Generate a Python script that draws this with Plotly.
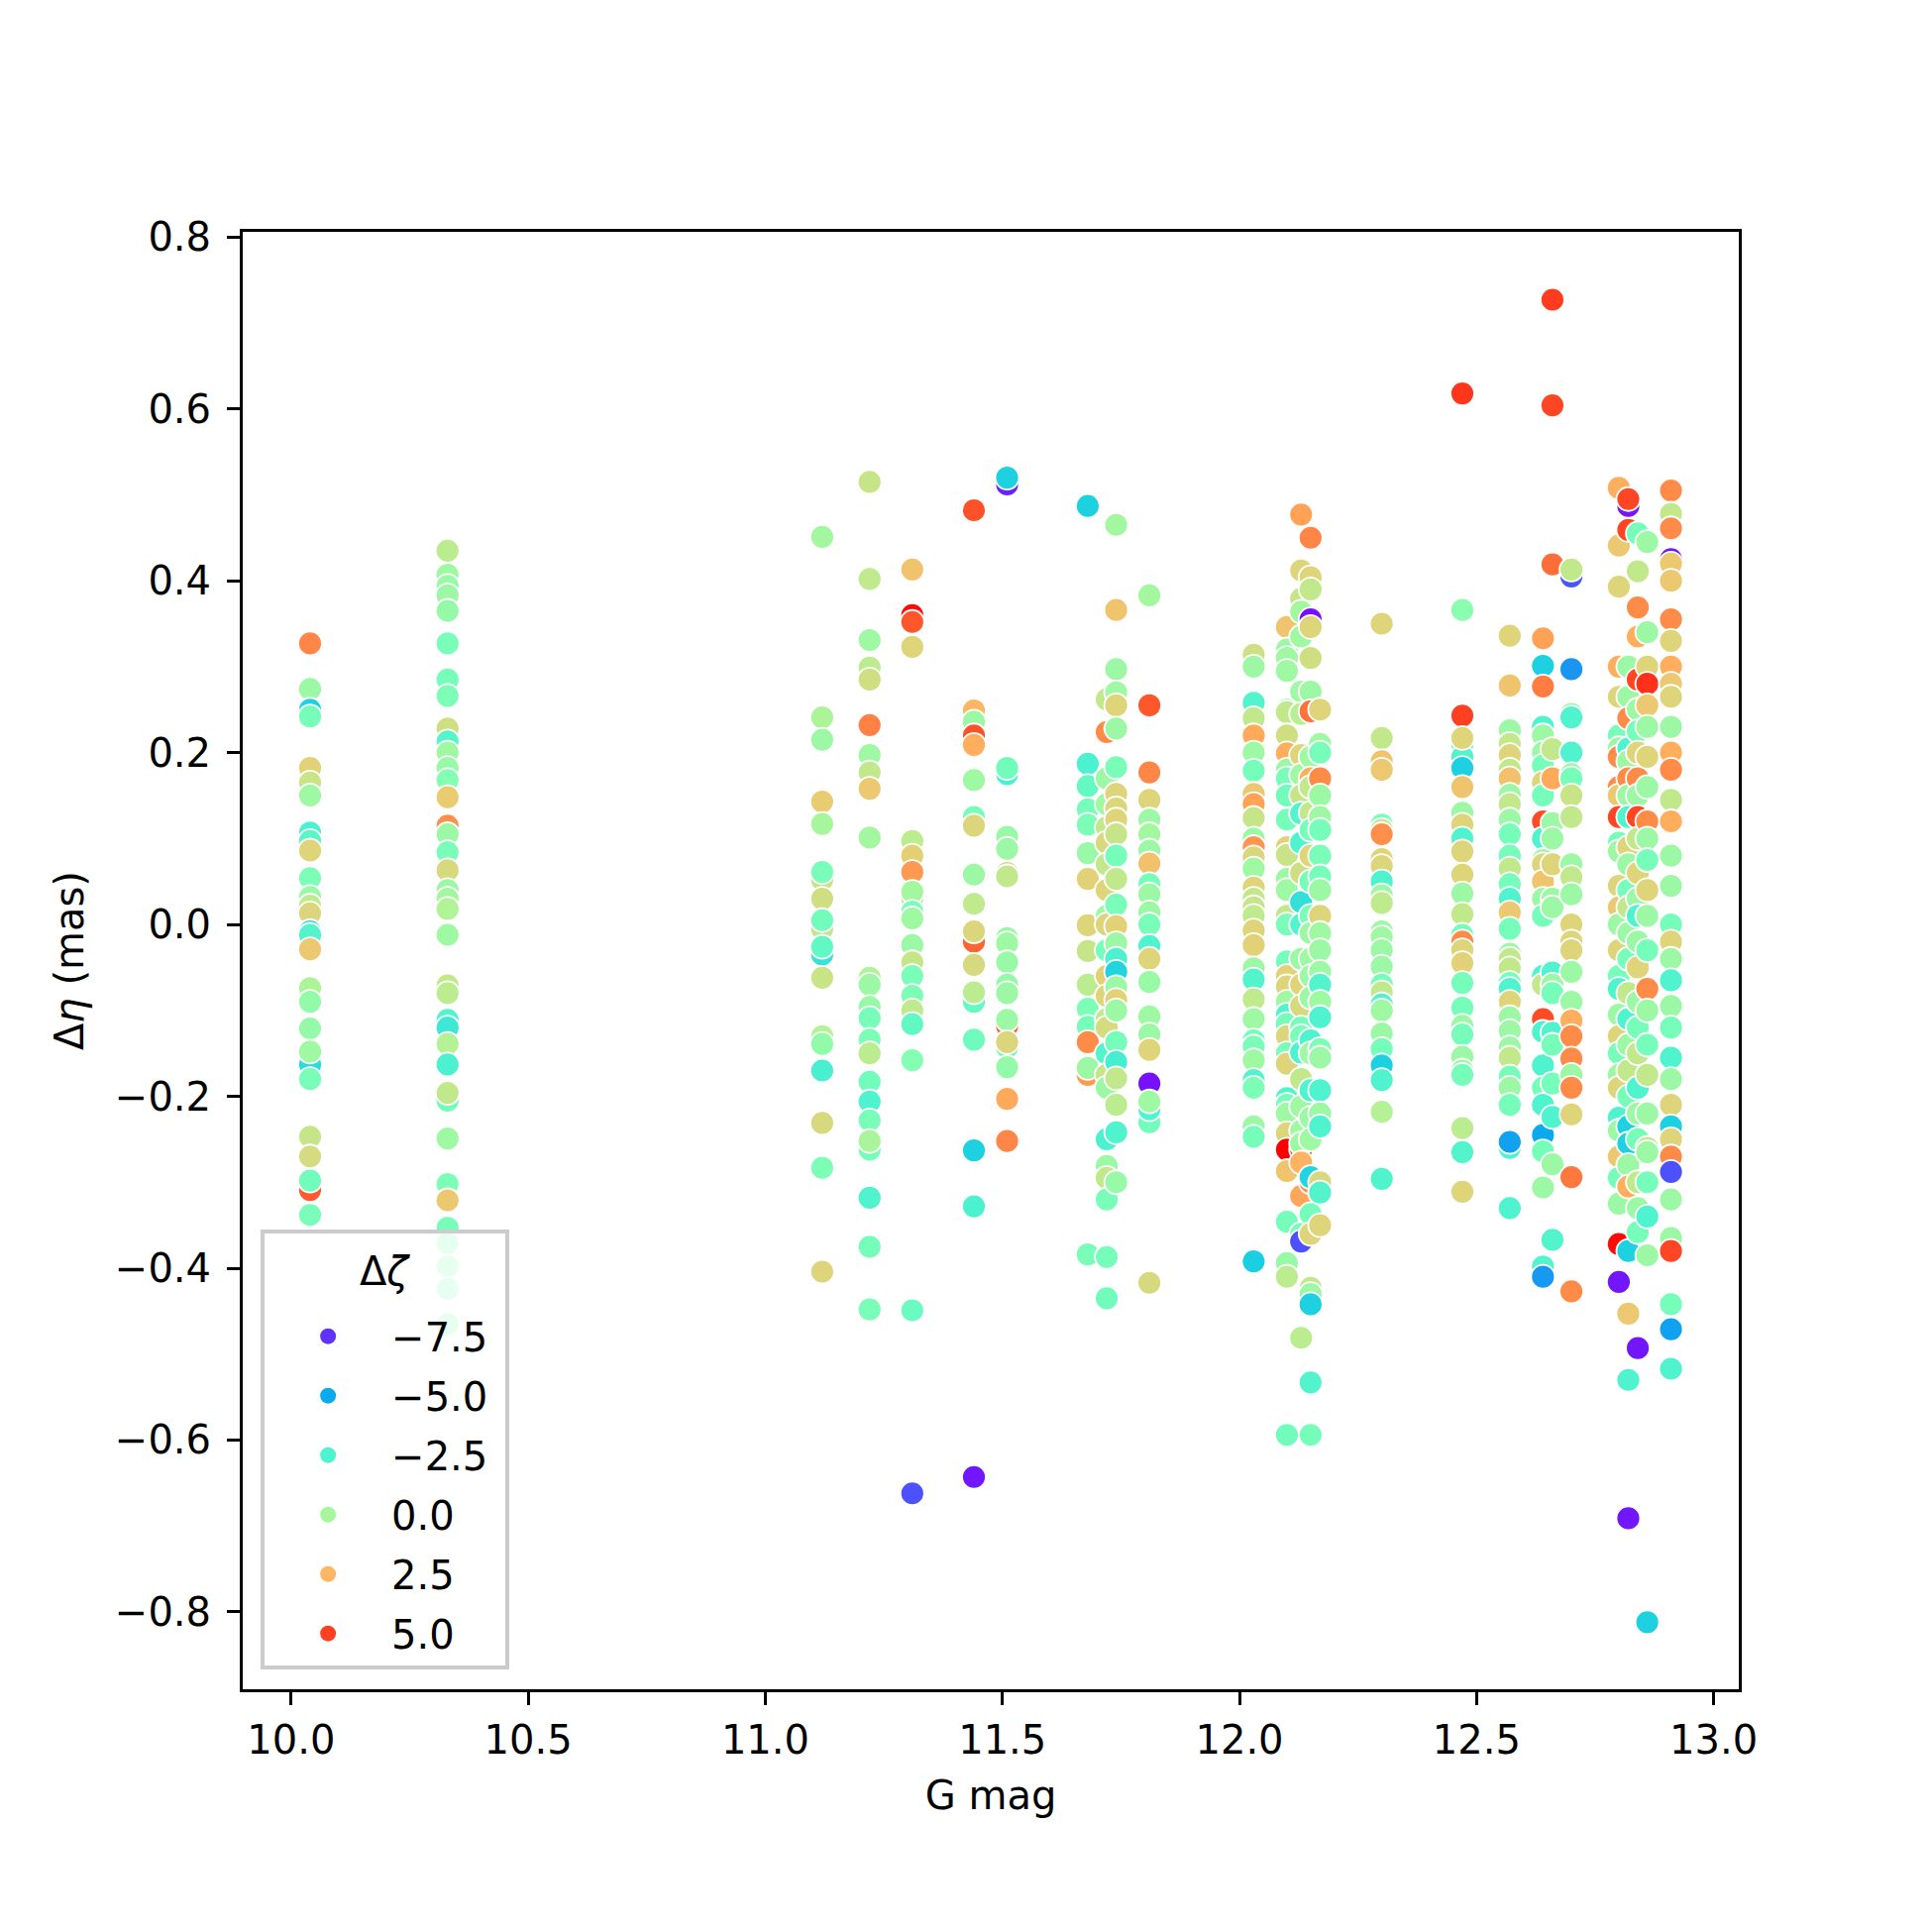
import plotly.graph_objects as go
import plotly.colors as pc

# G magnitude of each column of stars
g_mag_cols = [10.04, 10.33, 11.12, 11.22, 11.31, 11.44, 11.51, 11.68, 11.72, 11.74,
              11.81, 12.03, 12.10, 12.13, 12.15, 12.17, 12.30, 12.47, 12.57, 12.64,
              12.66, 12.70, 12.80, 12.82, 12.84, 12.86, 12.91]

# delta eta (mas) and delta zeta per column
eta_1004 = [0.327, 0.274, 0.250, 0.242, 0.182, 0.165, 0.150, 0.107, 0.097, 0.086, 0.054, 0.032, 0.022, 0.013,
            -0.008, -0.012, -0.029, -0.074, -0.090, -0.121, -0.163, -0.148, -0.180, -0.247, -0.270, -0.309,
            -0.298, -0.338]
zeta_1004 = [3.6, -0.3, -3.9, -1.4, 1.7, 1.0, -0.2, -2.6, -2.2, 1.6, -1.2, -0.4, 0.7, 1.5,
             -3.8, -2.4, 2.0, 0.2, -0.6, -0.5, -3.5, -0.2, -1.3, 0.9, 1.3, 4.5, -1.5, -1.3]

eta_1033 = [0.435, 0.407, 0.394, 0.383, 0.365, 0.327, 0.285, 0.266, 0.228, 0.213, 0.200, 0.182, 0.168, 0.148,
            0.115, 0.105, 0.084, 0.063, 0.040, 0.030, 0.018, -0.012, -0.071, -0.080, -0.111, -0.120, -0.139,
            -0.163, -0.205, -0.196, -0.249, -0.302, -0.321, -0.353, -0.371, -0.398, -0.424, -0.465]
zeta_1033 = [0.6, -0.2, -0.4, -0.3, -0.5, -1.3, -1.4, -1.2, 1.2, -2.3, -0.2, -0.4, -1.0, 1.9,
             3.4, -0.3, -1.3, 1.4, -0.3, -0.1, 0.3, -0.2, 0.8, 0.6, -2.4, -3.0, 0.4,
             -2.6, -1.5, 0.8, -0.2, -1.2, 2.0, -1.4, -1.1, -0.9, -1.0, -0.8]

eta_1112 = [0.451, 0.241, 0.215, 0.143, 0.117, 0.052, 0.061, 0.030, -0.005, 0.005, -0.035, -0.026, -0.062,
            -0.130, -0.139, -0.170, -0.231, -0.283, -0.404]
zeta_1112 = [-0.1, 0.2, -0.3, 1.9, 0.0, 1.0, -1.3, 1.2, 0.9, -1.5, -3.2, -2.0, 1.0,
             0.4, -0.6, -2.7, 1.4, -1.2, 1.6]

eta_1122 = [0.515, 0.402, 0.331, 0.299, 0.285, 0.232, 0.197, 0.177, 0.158, 0.101, -0.062, -0.070, -0.096,
            -0.109, -0.134, -0.150, -0.183, -0.206, -0.228, -0.262, -0.252, -0.318, -0.375, -0.448]
zeta_1122 = [0.9, 0.7, -0.2, 0.6, 1.2, 3.7, -0.2, 0.8, 2.0, -0.1, 0.3, -0.3, -0.4,
             -1.4, -1.2, 0.6, -1.5, -2.5, -1.3, -1.4, 0.1, -2.5, -1.4, -1.3]

eta_1131 = [0.413, 0.360, 0.352, 0.323, 0.087, 0.097, 0.080, 0.061, 0.030, 0.038, 0.015, 0.007, -0.024,
            -0.044, -0.060, -0.083, -0.100, -0.116, -0.158, -0.449, -0.662]
zeta_1131 = [2.1, 6.0, 4.6, 1.6, 1.0, 0.6, 1.8, 3.2, 0.8, -0.1, -1.3, -0.2, -0.3,
             0.9, -1.3, -1.2, 0.7, -2.0, -1.0, -1.7, -6.9]

eta_1144 = [0.482, 0.249, 0.236, 0.220, 0.209, 0.168, 0.125, 0.115, 0.058, 0.024, -0.020, -0.008, -0.090,
            -0.047, -0.079, -0.134, -0.263, -0.328, -0.643]
zeta_1144 = [4.7, 2.5, -0.3, 4.7, 2.7, -0.2, -1.4, 1.5, -0.3, 0.7, 4.3, 1.5, -1.9,
             1.4, 0.6, -1.6, -3.9, -2.6, -8.0]

eta_1151 = [0.512, 0.520, 0.175, 0.182, 0.102, 0.088, 0.060, 0.056, -0.016, -0.022, -0.044, -0.070, -0.080,
            -0.118, -0.111, -0.143, -0.137, -0.166, -0.203, -0.252]
zeta_1151 = [-7.8, -3.9, -2.6, -1.5, -0.4, -0.3, 1.5, 0.8, -0.5, -0.2, -0.4, -0.5, -0.3,
             4.5, -0.3, -1.6, 1.5, -0.5, 2.8, 3.6]

eta_1168 = [0.487, 0.187, 0.161, 0.134, 0.116, 0.083, 0.053, -0.001, -0.031, -0.070, -0.098, -0.119, -0.137,
            -0.175, -0.167, -0.384]
zeta_1168 = [-3.9, -2.6, -1.9, -1.4, -1.2, -0.4, 1.7, 1.6, 0.9, 0.6, -1.2, -1.4, 3.5,
             3.2, -0.3, -1.3]

eta_1172 = [0.262, 0.224, 0.170, 0.140, 0.113, 0.095, 0.070, 0.040, 0.010, 0.000, -0.030, -0.060, -0.083,
            -0.110, -0.120, -0.150, -0.175, -0.190, -0.250, -0.281, -0.295, -0.320, -0.387, -0.435]
zeta_1172 = [0.8, 3.5, -0.3, -0.2, 0.8, 1.4, 0.8, 1.6, -0.3, 1.5, -1.4, 1.8, 1.6,
             0.8, 1.3, -2.4, 0.9, -0.3, -2.6, -0.3, 0.8, -1.3, -1.4, -1.5]

eta_1174 = [0.465, 0.366, 0.297, 0.270, 0.255, 0.228, 0.183, 0.152, 0.135, 0.122, 0.105, 0.080, 0.053,
            0.023, -0.002, -0.022, -0.040, -0.055, -0.073, -0.088, -0.100, -0.137, -0.160, -0.179, -0.210,
            -0.242, -0.300]
zeta_1174 = [-0.1, 2.1, -0.3, -0.2, 1.6, -0.3, -1.3, 1.6, 1.5, 1.6, 0.9, -1.4, 0.8,
             -1.3, 1.7, -0.3, -2.6, -3.8, -0.3, 1.7, -0.3, -1.4, -2.8, 0.8, 0.6,
             -2.5, -0.4]

eta_1181 = [0.383, 0.255, 0.177, 0.145, 0.122, 0.105, 0.086, 0.071, 0.047, 0.035, 0.014, 0.000, -0.025,
            -0.040, -0.067, -0.107, -0.128, -0.146, -0.185, -0.230, -0.215, -0.206, -0.417]
zeta_1181 = [-0.1, 4.6, 3.6, 1.6, -0.3, -0.1, -0.3, 2.2, -1.4, -0.3, -0.3, -1.3, -2.5,
             1.6, -0.4, -0.2, -0.3, 1.6, -8.1, -1.5, -2.5, -0.2, 1.4]

eta_1203 = [0.314, 0.300, 0.258, 0.240, 0.220, 0.200, 0.179, 0.152, 0.140, 0.124, 0.100, 0.090, 0.078,
            0.065, 0.043, 0.030, 0.020, 0.010, -0.007, -0.024, -0.051, -0.064, -0.087, -0.110, -0.135,
            -0.142, -0.158, -0.181, -0.190, -0.235, -0.247, -0.392]
zeta_1203 = [1.1, -0.3, -2.4, 0.8, 2.8, -0.2, -1.4, 2.0, 3.0, 0.9, -0.3, 3.3, 1.5,
             -0.2, 1.6, 0.8, 0.9, 0.7, 1.6, 1.7, -0.3, -2.4, 0.7, -0.2, -1.5,
             -1.3, -0.2, -2.4, -1.2, -0.3, -1.4, -4.0]

eta_1210 = [0.346, 0.320, 0.310, 0.295, 0.250, 0.247, 0.220, 0.199, 0.180, 0.170, 0.150, 0.122, 0.090,
            0.081, 0.053, 0.040, 0.010, 0.000, -0.043, -0.060, -0.072, -0.090, -0.105, -0.116, -0.130,
            -0.150, -0.162, -0.202, -0.210, -0.220, -0.243, -0.262, -0.287, -0.346, -0.394, -0.410,
            -0.594]
zeta_1210 = [2.1, -0.3, -0.2, -0.2, -1.4, 0.8, 1.2, 2.7, -0.3, -1.3, -1.5, -1.4, 1.7,
             1.0, -0.3, -0.2, 0.8, -1.3, -1.4, 1.7, 1.6, -0.2, -2.4, -1.4, 1.5,
             -1.3, 1.6, -2.4, -1.4, -0.2, 1.6, 6.2, 2.1, -1.4, -0.4, 0.6,
             -1.5]

eta_1213 = [0.477, 0.412, 0.379, 0.364, 0.335, 0.271, 0.245, 0.197, 0.174, 0.150, 0.129, 0.095, 0.060,
            0.026, 0.000, -0.040, -0.070, -0.095, -0.120, -0.130, -0.149, -0.180, -0.212, -0.240, -0.262,
            -0.255, -0.277, -0.316, -0.360, -0.369, -0.481]
zeta_1213 = [3.0, 1.6, 0.9, -0.1, -0.2, -0.2, 0.5, 1.6, -0.2, 0.9, -2.4, -2.5, 1.2,
             -3.3, -2.4, -0.3, 1.6, 1.4, -1.4, -1.3, -2.5, 0.8, -0.2, -0.2, 4.8,
             -0.3, 2.6, 2.9, -1.4, -6.9, 0.6]

eta_1215 = [0.450, 0.355, 0.346, 0.404, 0.390, 0.310, 0.271, 0.248, 0.195, 0.170, 0.160, 0.130, 0.110,
            0.080, 0.050, 0.010, -0.010, -0.040, -0.060, -0.085, -0.135, -0.150, -0.193, -0.225, -0.250,
            -0.300, -0.294, -0.337, -0.360, -0.423, -0.430, -0.442, -0.533, -0.594]
zeta_1215 = [3.6, -8.1, 1.6, 1.6, 0.8, 1.2, -0.3, 4.0, -0.2, 2.7, 0.8, 0.8, -1.4,
             1.6, -1.4, -1.3, -0.3, -0.2, -0.3, -0.3, -2.5, -0.2, -2.5, -0.3, -0.2,
             3.4, -3.8, -1.4, 1.6, 0.8, -0.3, -3.9, -2.4, -1.4]

eta_1217 = [0.250, 0.210, 0.200, 0.170, 0.150, 0.125, 0.110, 0.080, 0.056, 0.040, 0.010, -0.010, -0.030,
            -0.055, -0.070, -0.090, -0.108, -0.145, -0.155, -0.193, -0.220, -0.235, -0.300, -0.312, -0.350]
zeta_1217 = [1.6, -0.2, -1.4, 3.5, -0.3, -0.2, -1.4, -1.3, -1.4, -0.3, 1.6, -0.2, -0.3,
             -0.3, -2.4, -0.2, -2.5, -1.2, -0.3, -2.5, -0.3, -2.5, 1.4, -2.4, 1.6]

eta_1230 = [0.350, 0.217, 0.190, 0.180, 0.116, 0.110, 0.105, 0.076, 0.068, 0.050, 0.034, 0.025, -0.008,
            -0.015, -0.030, -0.049, -0.070, -0.079, -0.093, -0.100, -0.127, -0.145, -0.164, -0.181, -0.218,
            -0.296]
zeta_1230 = [1.6, 0.8, 2.1, 2.0, -1.4, 0.8, 3.4, 1.6, 1.5, -2.5, -0.3, 0.7, -0.3,
             -0.2, -0.3, -0.3, -1.4, 0.8, -2.5, -0.2, -0.3, -1.4, -3.9, -2.5, 0.4,
             -2.5]

eta_1247 = [0.618, 0.366, 0.243, 0.210, 0.195, 0.217, 0.182, 0.160, 0.130, 0.116, 0.100, 0.085, 0.058,
            0.036, 0.012, -0.012, -0.020, -0.030, -0.045, -0.068, -0.097, -0.118, -0.128, -0.154, -0.170,
            -0.175, -0.237, -0.265, -0.311]
zeta_1247 = [5.2, -0.8, 5.0, -2.5, -2.4, 1.6, -3.9, 2.1, -0.3, 1.6, -2.5, 1.6, 1.6,
             -0.3, 0.8, -1.4, 3.5, 1.6, 1.7, -1.4, -1.4, -0.3, -1.4, -0.3, -0.3,
             -1.4, 0.6, -2.4, 1.6]

eta_1257 = [0.336, 0.278, 0.226, 0.210, 0.197, 0.180, 0.170, 0.151, 0.140, 0.122, 0.105, 0.080, 0.065,
            0.047, 0.030, 0.014, -0.005, -0.034, -0.040, -0.051, -0.068, -0.075, -0.090, -0.108, -0.124,
            -0.143, -0.155, -0.177, -0.190, -0.210, -0.260, -0.253, -0.330]
zeta_1257 = [1.6, 2.1, -0.3, 0.8, 1.6, 0.8, 2.2, -0.3, 0.8, -0.3, -1.4, -1.4, 0.8,
             -1.4, -2.5, 2.0, -1.4, -0.3, 0.8, 0.8, -1.4, -2.5, 1.6, -0.3, -0.3,
             -0.3, 0.8, -1.4, -0.3, -1.4, -2.5, -5.2, -2.5]

eta_1264 = [0.333, 0.301, 0.277, 0.230, 0.220, 0.200, 0.185, 0.165, 0.150, 0.120, 0.100, 0.075, 0.070,
            0.050, 0.030, 0.010, -0.060, -0.070, -0.110, -0.125, -0.164, -0.190, -0.210, -0.245, -0.264,
            -0.306, -0.398, -0.410]
zeta_1264 = [3.0, -3.9, 3.8, -2.5, -0.3, -0.3, -1.4, 1.6, -1.4, 4.8, -2.5, -0.3, 1.6,
             2.1, -0.3, -1.4, -2.5, 0.8, 4.8, -2.5, -2.5, -1.4, -2.5, -5.0, -1.4,
             -0.3, -2.4, -5.4]

eta_1266 = [0.727, 0.604, 0.419, 0.204, 0.170, 0.118, 0.100, 0.070, 0.030, 0.020, -0.056, -0.070, -0.080,
            -0.126, -0.140, -0.185, -0.224, -0.279, -0.367]
zeta_1266 = [5.1, 4.9, 4.1, 0.8, 2.8, -0.3, -0.3, 1.6, -0.3, -0.3, -2.5, -0.3, -1.4,
             -2.5, -1.4, -1.4, -2.5, -0.3, -2.4]

eta_1270 = [0.405, 0.413, 0.297, 0.245, 0.241, 0.200, 0.175, 0.170, 0.150, 0.125, 0.070, 0.055, 0.035,
            0.000, -0.020, -0.030, -0.055, -0.090, -0.112, -0.130, -0.156, -0.175, -0.190, -0.221, -0.294,
            -0.427]
zeta_1270 = [-6.8, 0.8, -5.5, -0.3, -2.5, -2.5, -0.3, -1.4, 1.0, 0.8, -0.3, 0.8, -0.3,
             1.6, 1.6, 1.6, -0.3, -0.3, 2.7, 3.5, 3.5, -0.3, 3.5, 1.6, 3.9,
             3.5]

eta_1280 = [0.508, 0.441, 0.393, 0.300, 0.265, 0.220, 0.205, 0.195, 0.160, 0.150, 0.125, 0.095, 0.085,
            0.045, 0.020, 0.000, -0.030, -0.060, -0.075, -0.105, -0.130, -0.150, -0.175, -0.190, -0.225,
            -0.240, -0.270, -0.295, -0.325, -0.372, -0.416]
zeta_1280 = [2.7, 2.0, 1.6, 2.7, 1.6, -1.4, -0.3, 3.5, 3.5, 2.0, 4.9, -1.4, -0.3,
             1.6, 2.0, -0.3, 1.6, -1.4, -2.5, -0.3, 1.6, -1.4, -0.3, 1.6, -2.5,
             -0.3, 2.0, -1.4, -0.3, 6.0, -8.0]

eta_1282 = [0.487, 0.495, 0.459, 0.300, 0.265, 0.240, 0.205, 0.190, 0.170, 0.150, 0.125, 0.090, 0.070,
            0.040, 0.020, -0.010, -0.040, -0.080, -0.110, -0.140, -0.170, -0.200, -0.235, -0.255, -0.280,
            -0.305, -0.380, -0.453, -0.530, -0.691]
zeta_1282 = [-8.0, 4.9, 4.9, -0.3, -0.3, 3.5, -2.5, -0.3, 3.5, -0.3, -2.5, 1.6, -0.3,
             -1.4, 0.8, -0.3, -1.4, 0.8, -2.5, -0.3, 0.8, -1.4, -3.9, -3.9, -0.3,
             2.7, -3.9, 2.0, -2.5, -8.0]

eta_1284 = [0.455, 0.411, 0.369, 0.335, 0.285, 0.250, 0.225, 0.200, 0.170, 0.150, 0.125, 0.100, 0.060,
            0.030, 0.010, -0.020, -0.050, -0.090, -0.120, -0.150, -0.190, -0.220, -0.250, -0.300, -0.330,
            -0.358, -0.493]
zeta_1284 = [-1.4, 0.8, 3.5, 2.7, 4.9, -0.3, -1.4, 1.6, 3.5, -0.3, 4.9, 0.8, 1.6,
             -0.3, -2.5, -0.3, 1.6, -0.3, -1.4, 0.8, -2.5, -0.3, -1.4, 0.8, -0.3,
             -1.4, -8.0]

eta_1286 = [0.445, 0.340, 0.300, 0.280, 0.255, 0.230, 0.195, 0.160, 0.120, 0.100, 0.075, 0.040, 0.010,
            -0.030, -0.075, -0.100, -0.140, -0.175, -0.220, -0.260, -0.265, -0.300, -0.340, -0.385, -0.812]
zeta_1286 = [-0.3, -0.3, 1.6, 5.3, 2.0, -0.3, 1.6, -0.3, 3.5, -0.3, -1.4, 1.6, -0.3,
             -1.4, 3.5, -0.3, -1.4, 0.8, -0.3, 0.8, -0.3, -1.4, -2.5, -0.3, -3.9]

eta_1291 = [0.505, 0.478, 0.461, 0.425, 0.420, 0.400, 0.355, 0.330, 0.300, 0.280, 0.265, 0.230, 0.200,
            0.180, 0.145, 0.120, 0.080, 0.045, 0.000, -0.020, -0.040, -0.065, -0.095, -0.120, -0.155,
            -0.180, -0.210, -0.235, -0.250, -0.270, -0.288, -0.320, -0.365, -0.380, -0.442, -0.471, -0.517]
zeta_1291 = [3.5, 0.8, 3.5, -8.0, 2.0, 2.0, 3.5, 1.6, 2.7, 2.0, 1.6, -0.3, 2.7,
             3.5, 0.8, 2.7, -0.3, -0.3, -1.4, 1.6, -0.3, -2.5, -0.3, -1.4, -2.5,
             -0.3, 1.6, -3.9, 1.6, 3.5, -6.9, -0.3, -0.3, 4.9, -1.4, -5.2, -2.5]

eta_cols = [eta_1004, eta_1033, eta_1112, eta_1122, eta_1131, eta_1144, eta_1151, eta_1168, eta_1172,
            eta_1174, eta_1181, eta_1203, eta_1210, eta_1213, eta_1215, eta_1217, eta_1230, eta_1247,
            eta_1257, eta_1264, eta_1266, eta_1270, eta_1280, eta_1282, eta_1284, eta_1286, eta_1291]
zeta_cols = [zeta_1004, zeta_1033, zeta_1112, zeta_1122, zeta_1131, zeta_1144, zeta_1151, zeta_1168,
             zeta_1172, zeta_1174, zeta_1181, zeta_1203, zeta_1210, zeta_1213, zeta_1215, zeta_1217,
             zeta_1230, zeta_1247, zeta_1257, zeta_1264, zeta_1266, zeta_1270, zeta_1280, zeta_1282,
             zeta_1284, zeta_1286, zeta_1291]

# hue legend levels
legend_levels = [-7.5, -5.0, -2.5, 0.0, 2.5, 5.0]

# matplotlib "rainbow" colormap
rainbow = [
    [0.0, "#8000ff"], [0.1, "#4d4ffc"], [0.2, "#1a96f2"], [0.25, "#00b4ec"],
    [0.3, "#1acee3"], [0.4, "#4df3ce"], [0.5, "#80ffb4"], [0.6, "#b3f396"],
    [0.7, "#e6ce74"], [0.75, "#ffb462"], [0.8, "#ff964f"], [0.9, "#ff4f28"],
    [1.0, "#ff0000"],
]
zeta_min, zeta_max = -8.4, 6.2

FONT = "DejaVu Sans"
FS = 40

g_all, eta_all, zeta_all = [], [], []
for g, etas, zetas in zip(g_mag_cols, eta_cols, zeta_cols):
    g_all += [g] * len(etas)
    eta_all += etas
    zeta_all += zetas

fig = go.Figure()

fig.add_trace(
    go.Scatter(
        x=g_all,
        y=eta_all,
        mode="markers",
        showlegend=False,
        marker=dict(
            color=zeta_all,
            colorscale=rainbow,
            cmin=zeta_min,
            cmax=zeta_max,
            size=24,
            line=dict(color="white", width=1.8),
        ),
        hoverinfo="skip",
    )
)

# legend entries for the hue levels
for i, lev in enumerate(legend_levels):
    col = pc.sample_colorscale(rainbow, [(lev - zeta_min) / (zeta_max - zeta_min)])[0]
    extra = {}
    if i == 0:
        # small spacer between the legend title and the first entry
        extra["legendgrouptitle"] = dict(text="\u00a0", font=dict(family=FONT, size=8))
    fig.add_trace(
        go.Scatter(
            x=[None],
            y=[None],
            mode="markers",
            name=f"{lev:.1f}".replace("-", "\u2212") + "\u00a0",
            legendgroup=f"g{i}",
            marker=dict(color=col, size=29),
            **extra,
        )
    )

axis_common = dict(
    showgrid=False,
    zeroline=False,
    showline=True,
    mirror=True,
    linecolor="black",
    linewidth=3,
    ticks="outside",
    ticklen=13,
    tickwidth=3,
    tickcolor="black",
    tickfont=dict(family=FONT, size=FS, color="black"),
    tickformat=".1f",
)

fig.update_xaxes(
    range=[9.898, 13.053],
    tick0=10,
    dtick=0.5,
    ticklabelstandoff=1,
    title=dict(text="G mag", font=dict(family=FONT, size=FS, color="black"), standoff=20),
    **axis_common,
)
fig.update_yaxes(
    range=[-0.89, 0.806],
    tick0=0,
    dtick=0.2,
    ticklabelstandoff=8,
    title=dict(text="Δ<i>η</i> (mas)", font=dict(family=FONT, size=FS, color="black"), standoff=19),
    **axis_common,
)

fig.update_layout(
    width=1950,
    height=1950,
    margin=dict(l=237, r=203, t=226, b=253),
    plot_bgcolor="white",
    paper_bgcolor="white",
    font=dict(family=FONT, size=FS, color="black"),
    legend=dict(
        title=dict(text="Δ<i>ζ</i>", side="top center", font=dict(family=FONT, size=FS)),
        x=0.012,
        y=0.0135,
        xanchor="left",
        yanchor="bottom",
        bgcolor="rgba(255,255,255,0.8)",
        bordercolor="#cccccc",
        borderwidth=4,
        tracegroupgap=5,
        itemwidth=118,
        font=dict(family=FONT, size=FS, color="black"),
    ),
)

fig.write_html("out.html")
